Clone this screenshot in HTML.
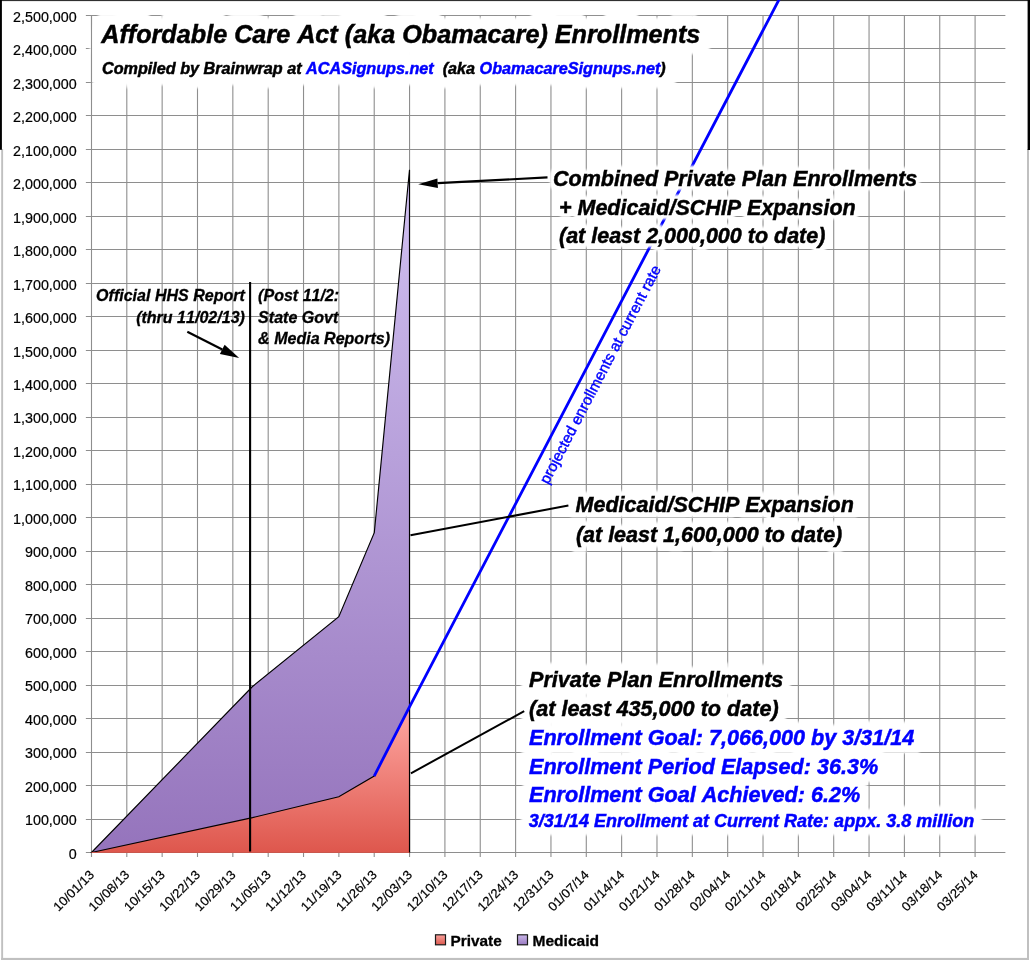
<!DOCTYPE html>
<html lang="en"><head><meta charset="utf-8"><title>Affordable Care Act (aka Obamacare) Enrollments</title>
<style>html,body{margin:0;padding:0;background:#fff}body{width:1030px;height:960px;overflow:hidden}svg{display:block}text{font-family:"Liberation Sans",sans-serif;white-space:pre;font-kerning:none}.bi{font-weight:bold;font-style:italic}.ax{font-size:14.3px;fill:#000;text-anchor:end;stroke:#000;stroke-width:0.2px}.xl{font-size:12.7px;fill:#000;text-anchor:end;stroke:#000;stroke-width:0.2px}.lg{font-weight:bold;font-size:15px;fill:#000;stroke:#000;stroke-width:0.3px}</style></head><body>
<svg width="1030" height="960" viewBox="0 0 1030 960">
<defs>
<linearGradient id="gp" gradientUnits="userSpaceOnUse" x1="0" y1="170" x2="0" y2="852"><stop offset="0" stop-color="#d1c1f1"/><stop offset="1" stop-color="#9574bc"/></linearGradient>
<linearGradient id="gr" gradientUnits="userSpaceOnUse" x1="0" y1="707" x2="0" y2="852"><stop offset="0" stop-color="#ffa8a3"/><stop offset="1" stop-color="#de574d"/></linearGradient>
<linearGradient id="lr" x1="0" y1="0" x2="0" y2="1"><stop offset="0" stop-color="#f9a09b"/><stop offset="1" stop-color="#dd5a4f"/></linearGradient>
<linearGradient id="lp" x1="0" y1="0" x2="0" y2="1"><stop offset="0" stop-color="#c9b7e8"/><stop offset="1" stop-color="#9a7ac2"/></linearGradient>
<filter id="halo11_0" filterUnits="objectBoundingBox" x="-8%" y="-40%" width="116%" height="180%" color-interpolation-filters="sRGB"><feMorphology in="SourceAlpha" operator="dilate" radius="11.0" result="d"/><feGaussianBlur in="d" stdDeviation="1.1" result="b"/><feFlood flood-color="#ffffff"/><feComposite in2="b" operator="in" result="h"/><feMerge><feMergeNode in="h"/><feMergeNode in="SourceGraphic"/></feMerge></filter>
<filter id="halo4_2" filterUnits="objectBoundingBox" x="-8%" y="-40%" width="116%" height="180%" color-interpolation-filters="sRGB"><feMorphology in="SourceAlpha" operator="dilate" radius="4.2" result="d"/><feGaussianBlur in="d" stdDeviation="1.1" result="b"/><feFlood flood-color="#ffffff"/><feComposite in2="b" operator="in" result="h"/><feMerge><feMergeNode in="h"/><feMergeNode in="SourceGraphic"/></feMerge></filter>
<filter id="halo5_0" filterUnits="objectBoundingBox" x="-8%" y="-40%" width="116%" height="180%" color-interpolation-filters="sRGB"><feMorphology in="SourceAlpha" operator="dilate" radius="5.0" result="d"/><feGaussianBlur in="d" stdDeviation="1.1" result="b"/><feFlood flood-color="#ffffff"/><feComposite in2="b" operator="in" result="h"/><feMerge><feMergeNode in="h"/><feMergeNode in="SourceGraphic"/></feMerge></filter>
<filter id="halo8_0" filterUnits="objectBoundingBox" x="-8%" y="-40%" width="116%" height="180%" color-interpolation-filters="sRGB"><feMorphology in="SourceAlpha" operator="dilate" radius="8.0" result="d"/><feGaussianBlur in="d" stdDeviation="1.1" result="b"/><feFlood flood-color="#ffffff"/><feComposite in2="b" operator="in" result="h"/><feMerge><feMergeNode in="h"/><feMergeNode in="SourceGraphic"/></feMerge></filter>
</defs>
<rect width="1030" height="960" fill="#fff"/>
<g id="frame">
<rect x="1.2" y="149" width="1.9" height="811" fill="#c0c0c0"/>
<rect x="1027" y="149" width="2" height="811" fill="#c0c0c0"/>
<rect x="1.2" y="957.9" width="1027.8" height="2.1" fill="#c0c0c0"/>
<rect x="0" y="0" width="1030" height="1.1" fill="#303030"/>
<rect x="0" y="0" width="1.9" height="149.8" fill="#000"/>
<rect x="1027.6" y="0" width="2.4" height="150" fill="#000"/>
</g>
<g id="grid" stroke="#8e8e8e" stroke-width="1.1" fill="none">
<line x1="85.86" y1="852.5" x2="1005.38" y2="852.5"/>
<line x1="85.86" y1="819.5" x2="1005.38" y2="819.5"/>
<line x1="85.86" y1="785.5" x2="1005.38" y2="785.5"/>
<line x1="85.86" y1="752.5" x2="1005.38" y2="752.5"/>
<line x1="85.86" y1="718.5" x2="1005.38" y2="718.5"/>
<line x1="85.86" y1="685.5" x2="1005.38" y2="685.5"/>
<line x1="85.86" y1="651.5" x2="1005.38" y2="651.5"/>
<line x1="85.86" y1="618.5" x2="1005.38" y2="618.5"/>
<line x1="85.86" y1="584.5" x2="1005.38" y2="584.5"/>
<line x1="85.86" y1="551.5" x2="1005.38" y2="551.5"/>
<line x1="85.86" y1="517.5" x2="1005.38" y2="517.5"/>
<line x1="85.86" y1="484.5" x2="1005.38" y2="484.5"/>
<line x1="85.86" y1="450.5" x2="1005.38" y2="450.5"/>
<line x1="85.86" y1="417.5" x2="1005.38" y2="417.5"/>
<line x1="85.86" y1="383.5" x2="1005.38" y2="383.5"/>
<line x1="85.86" y1="350.5" x2="1005.38" y2="350.5"/>
<line x1="85.86" y1="316.5" x2="1005.38" y2="316.5"/>
<line x1="85.86" y1="283.5" x2="1005.38" y2="283.5"/>
<line x1="85.86" y1="249.5" x2="1005.38" y2="249.5"/>
<line x1="85.86" y1="216.5" x2="1005.38" y2="216.5"/>
<line x1="85.86" y1="182.5" x2="1005.38" y2="182.5"/>
<line x1="85.86" y1="149.5" x2="1005.38" y2="149.5"/>
<line x1="85.86" y1="115.5" x2="1005.38" y2="115.5"/>
<line x1="85.86" y1="82.5" x2="1005.38" y2="82.5"/>
<line x1="85.86" y1="48.5" x2="1005.38" y2="48.5"/>
<line x1="85.86" y1="15.5" x2="1005.38" y2="15.5"/>
<line x1="91.50" y1="15.50" x2="91.50" y2="857.00"/>
<line x1="126.80" y1="15.50" x2="126.80" y2="857.00"/>
<line x1="162.15" y1="15.50" x2="162.15" y2="857.00"/>
<line x1="197.50" y1="15.50" x2="197.50" y2="857.00"/>
<line x1="232.84" y1="15.50" x2="232.84" y2="857.00"/>
<line x1="268.19" y1="15.50" x2="268.19" y2="857.00"/>
<line x1="303.53" y1="15.50" x2="303.53" y2="857.00"/>
<line x1="338.88" y1="15.50" x2="338.88" y2="857.00"/>
<line x1="374.22" y1="15.50" x2="374.22" y2="857.00"/>
<line x1="409.56" y1="15.50" x2="409.56" y2="857.00"/>
<line x1="444.91" y1="15.50" x2="444.91" y2="857.00"/>
<line x1="480.25" y1="15.50" x2="480.25" y2="857.00"/>
<line x1="515.60" y1="15.50" x2="515.60" y2="857.00"/>
<line x1="550.95" y1="15.50" x2="550.95" y2="857.00"/>
<line x1="586.29" y1="15.50" x2="586.29" y2="857.00"/>
<line x1="621.63" y1="15.50" x2="621.63" y2="857.00"/>
<line x1="656.98" y1="15.50" x2="656.98" y2="857.00"/>
<line x1="692.33" y1="15.50" x2="692.33" y2="857.00"/>
<line x1="727.67" y1="15.50" x2="727.67" y2="857.00"/>
<line x1="763.02" y1="15.50" x2="763.02" y2="857.00"/>
<line x1="798.36" y1="15.50" x2="798.36" y2="857.00"/>
<line x1="833.71" y1="15.50" x2="833.71" y2="857.00"/>
<line x1="869.05" y1="15.50" x2="869.05" y2="857.00"/>
<line x1="904.40" y1="15.50" x2="904.40" y2="857.00"/>
<line x1="939.74" y1="15.50" x2="939.74" y2="857.00"/>
<line x1="975.09" y1="15.50" x2="975.09" y2="857.00"/>
</g>
<g id="series">
<polygon points="91.5,852.5 252.5,686.5 338.8,616.7 374.3,532.6 409.5,169.8 409.5,852.5" fill="url(#gp)" stroke="#000" stroke-width="1.15" stroke-linejoin="miter"/>
<polygon points="91.5,852.5 252.5,817.6 338.8,796.7 374.2,776.1 409.5,706.9 409.5,852.5" fill="url(#gr)" stroke="#000" stroke-width="1.15" stroke-linejoin="miter"/>
<line x1="91.5" y1="852.5" x2="409.5" y2="852.5" stroke="#c9574d" stroke-width="1"/>
</g>
<polyline points="374.2,776.1 409.5,706.9 780.92,-4" fill="none" stroke="#0000ff" stroke-width="2.8" stroke-linejoin="round"/>
<g id="labels">
<g filter="url(#halo11_0)">
<text class="bi" fill="#000" stroke="#000" stroke-width="0.5" font-size="25.6" transform="translate(101.20 43.40) scale(0.9844 1)">Affordable Care Act (aka Obamacare) Enrollments</text>
<text class="bi" fill="#000" stroke="#000" stroke-width="0.5" font-size="16.3" transform="translate(102.00 73.60) scale(0.9933 1)"><tspan fill="#000" stroke="#000">Compiled by Brainwrap at </tspan><tspan fill="#0000ff" stroke="#0000ff">ACASignups.net</tspan><tspan fill="#000" stroke="#000">  (aka </tspan><tspan fill="#0000ff" stroke="#0000ff">ObamacareSignups.net</tspan><tspan fill="#000" stroke="#000">)</tspan></text>
</g>
<g>
<text class="bi" fill="#000" stroke="#000" stroke-width="0.3" font-size="16.1" transform="translate(244.90 300.80) scale(0.9969 1)" text-anchor="end">Official HHS Report</text>
<text class="bi" fill="#000" stroke="#000" stroke-width="0.3" font-size="16.1" transform="translate(244.90 322.50) scale(0.9969 1)" text-anchor="end">(thru 11/02/13)</text>
<text class="bi" fill="#000" stroke="#000" stroke-width="0.3" font-size="16.1" transform="translate(258.10 300.80) scale(0.9969 1)">(Post 11/2:</text>
<text class="bi" fill="#000" stroke="#000" stroke-width="0.3" font-size="16.1" transform="translate(258.10 322.50) scale(0.9969 1)">State Govt</text>
<text class="bi" fill="#000" stroke="#000" stroke-width="0.3" font-size="16.1" transform="translate(258.10 343.60) scale(0.9969 1)">&amp; Media Reports)</text>
</g>
<g filter="url(#halo4_2)">
<text class="bi" fill="#000" stroke="#000" stroke-width="0.5" font-size="22.2" transform="translate(553.00 185.60) scale(0.9685 1)">Combined Private Plan Enrollments</text>
<text class="bi" fill="#000" stroke="#000" stroke-width="0.5" font-size="22.2" transform="translate(553.00 214.50) scale(0.9685 1)"> + Medicaid/SCHIP Expansion</text>
<text class="bi" fill="#000" stroke="#000" stroke-width="0.5" font-size="22.2" transform="translate(553.00 243.30) scale(0.9685 1)"> (at least 2,000,000 to date)</text>
</g>
<g filter="url(#halo5_0)">
<text class="bi" fill="#000" stroke="#000" stroke-width="0.5" font-size="22.2" transform="translate(575.60 512.30) scale(0.9685 1)">Medicaid/SCHIP Expansion</text>
<text class="bi" fill="#000" stroke="#000" stroke-width="0.5" font-size="22.2" transform="translate(575.90 541.50) scale(0.9685 1)">(at least 1,600,000 to date)</text>
</g>
<g filter="url(#halo8_0)">
<text class="bi" fill="#000" stroke="#000" stroke-width="0.5" font-size="22.2" transform="translate(529.00 687.30) scale(0.9730 1)">Private Plan Enrollments</text>
<text class="bi" fill="#000" stroke="#000" stroke-width="0.5" font-size="22.2" transform="translate(529.00 716.10) scale(0.9730 1)">(at least 435,000 to date)</text>
<text class="bi" fill="#0000ff" stroke="#0000ff" stroke-width="0.5" font-size="22.2" transform="translate(529.00 745.20) scale(0.9730 1)">Enrollment Goal: 7,066,000 by 3/31/14</text>
<text class="bi" fill="#0000ff" stroke="#0000ff" stroke-width="0.5" font-size="22.2" transform="translate(529.00 773.50) scale(0.9730 1)">Enrollment Period Elapsed: 36.3%</text>
<text class="bi" fill="#0000ff" stroke="#0000ff" stroke-width="0.5" font-size="22.2" transform="translate(529.00 802.40) scale(0.9730 1)">Enrollment Goal Achieved: 6.2%</text>
<text class="bi" fill="#0000ff" stroke="#0000ff" stroke-width="0.5" font-size="18.5" transform="translate(528.80 826.50) scale(0.9746 1)">3/31/14 Enrollment at Current Rate: appx. 3.8 million</text>
</g>
</g>
<line x1="91.5" y1="15" x2="91.5" y2="100" stroke="#8e8e8e" stroke-width="1.1"/>
<g id="callouts" stroke="#000" fill="none">
<line x1="250.1" y1="282" x2="250.1" y2="851.5" stroke-width="2.1"/>
<line x1="410.5" y1="535.2" x2="568.4" y2="505.5" stroke-width="2"/>
<line x1="410.9" y1="773.3" x2="524.2" y2="711.2" stroke-width="2"/>
</g>
<line x1="187.3" y1="331.7" x2="222.3" y2="349.4" stroke="#000" stroke-width="2.2"/>
<polygon points="239.2,358.0 219.9,354.1 224.6,344.8" fill="#000"/>
<line x1="547.5" y1="177.4" x2="437.7" y2="183.2" stroke="#000" stroke-width="2.2"/>
<polygon points="418.2,184.2 437.4,178.4 437.9,188.0" fill="#000"/>
<text font-size="15.2" fill="#0000ff" stroke="#0000ff" stroke-width="0.4" transform="translate(548.3 485) rotate(-62.41)">projected enrollments at current rate</text>
<g id="yaxis">
<text class="ax" x="76.7" y="858.70">0</text>
<text class="ax" x="76.7" y="825.22">100,000</text>
<text class="ax" x="76.7" y="791.74">200,000</text>
<text class="ax" x="76.7" y="758.26">300,000</text>
<text class="ax" x="76.7" y="724.78">400,000</text>
<text class="ax" x="76.7" y="691.30">500,000</text>
<text class="ax" x="76.7" y="657.82">600,000</text>
<text class="ax" x="76.7" y="624.34">700,000</text>
<text class="ax" x="76.7" y="590.86">800,000</text>
<text class="ax" x="76.7" y="557.38">900,000</text>
<text class="ax" x="76.7" y="523.90">1,000,000</text>
<text class="ax" x="76.7" y="490.42">1,100,000</text>
<text class="ax" x="76.7" y="456.94">1,200,000</text>
<text class="ax" x="76.7" y="423.46">1,300,000</text>
<text class="ax" x="76.7" y="389.98">1,400,000</text>
<text class="ax" x="76.7" y="356.50">1,500,000</text>
<text class="ax" x="76.7" y="323.02">1,600,000</text>
<text class="ax" x="76.7" y="289.54">1,700,000</text>
<text class="ax" x="76.7" y="256.06">1,800,000</text>
<text class="ax" x="76.7" y="222.58">1,900,000</text>
<text class="ax" x="76.7" y="189.10">2,000,000</text>
<text class="ax" x="76.7" y="155.62">2,100,000</text>
<text class="ax" x="76.7" y="122.14">2,200,000</text>
<text class="ax" x="76.7" y="88.66">2,300,000</text>
<text class="ax" x="76.7" y="55.18">2,400,000</text>
<text class="ax" x="76.7" y="21.70">2,500,000</text>
</g>
<g id="xaxis">
<text class="xl" transform="translate(94.96 875.60) rotate(-45) scale(1.045 1)">10/01/13</text>
<text class="xl" transform="translate(130.31 875.60) rotate(-45) scale(1.045 1)">10/08/13</text>
<text class="xl" transform="translate(165.65 875.60) rotate(-45) scale(1.045 1)">10/15/13</text>
<text class="xl" transform="translate(201.00 875.60) rotate(-45) scale(1.045 1)">10/22/13</text>
<text class="xl" transform="translate(236.34 875.60) rotate(-45) scale(1.045 1)">10/29/13</text>
<text class="xl" transform="translate(271.69 875.60) rotate(-45) scale(1.045 1)">11/05/13</text>
<text class="xl" transform="translate(307.03 875.60) rotate(-45) scale(1.045 1)">11/12/13</text>
<text class="xl" transform="translate(342.38 875.60) rotate(-45) scale(1.045 1)">11/19/13</text>
<text class="xl" transform="translate(377.72 875.60) rotate(-45) scale(1.045 1)">11/26/13</text>
<text class="xl" transform="translate(413.06 875.60) rotate(-45) scale(1.045 1)">12/03/13</text>
<text class="xl" transform="translate(448.41 875.60) rotate(-45) scale(1.045 1)">12/10/13</text>
<text class="xl" transform="translate(483.75 875.60) rotate(-45) scale(1.045 1)">12/17/13</text>
<text class="xl" transform="translate(519.10 875.60) rotate(-45) scale(1.045 1)">12/24/13</text>
<text class="xl" transform="translate(554.45 875.60) rotate(-45) scale(1.045 1)">12/31/13</text>
<text class="xl" transform="translate(589.79 875.60) rotate(-45) scale(1.045 1)">01/07/14</text>
<text class="xl" transform="translate(625.13 875.60) rotate(-45) scale(1.045 1)">01/14/14</text>
<text class="xl" transform="translate(660.48 875.60) rotate(-45) scale(1.045 1)">01/21/14</text>
<text class="xl" transform="translate(695.83 875.60) rotate(-45) scale(1.045 1)">01/28/14</text>
<text class="xl" transform="translate(731.17 875.60) rotate(-45) scale(1.045 1)">02/04/14</text>
<text class="xl" transform="translate(766.52 875.60) rotate(-45) scale(1.045 1)">02/11/14</text>
<text class="xl" transform="translate(801.86 875.60) rotate(-45) scale(1.045 1)">02/18/14</text>
<text class="xl" transform="translate(837.21 875.60) rotate(-45) scale(1.045 1)">02/25/14</text>
<text class="xl" transform="translate(872.55 875.60) rotate(-45) scale(1.045 1)">03/04/14</text>
<text class="xl" transform="translate(907.90 875.60) rotate(-45) scale(1.045 1)">03/11/14</text>
<text class="xl" transform="translate(943.24 875.60) rotate(-45) scale(1.045 1)">03/18/14</text>
<text class="xl" transform="translate(978.59 875.60) rotate(-45) scale(1.045 1)">03/25/14</text>
</g>
<g id="legend">
<rect x="435.5" y="934.8" width="10" height="10" fill="url(#lr)" stroke="#1a1a1a" stroke-width="1.2"/>
<text class="lg" x="450.5" y="945.6" textLength="51.2" lengthAdjust="spacingAndGlyphs">Private</text>
<rect x="517.5" y="934.8" width="10" height="10" fill="url(#lp)" stroke="#1a1a1a" stroke-width="1.2"/>
<text class="lg" x="532.5" y="945.6" textLength="66.5" lengthAdjust="spacingAndGlyphs">Medicaid</text>
</g>
</svg></body></html>
